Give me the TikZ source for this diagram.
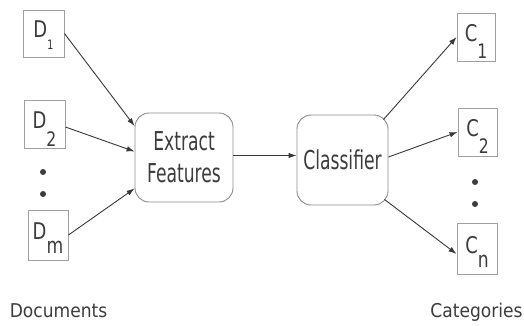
\documentclass[tikz,border=0pt]{standalone}
\usepackage{fontspec}
\usetikzlibrary{arrows.meta}
\setmainfont{DejaVu Sans}
\newfontfamily\boxfont[FakeStretch=0.66]{DejaVu Sans}
\newfontfamily\labfont[FakeStretch=0.9]{DejaVu Sans}
\newfontfamily\symfont[FakeStretch=0.78]{DejaVu Sans}
\definecolor{inkgray}{HTML}{3C3C3C}
\definecolor{edgegray}{HTML}{A0A0A0}
\definecolor{roundgray}{HTML}{8A8A8A}
\definecolor{wiregray}{HTML}{383838}
% letter with a lowered index: letter, index size, drop, index
\newcommand\itemtext[4]{\raisebox{-4pt}[0pt][0pt]{#1\raisebox{-#3}{\fontsize{#2}{#2}\selectfont #4}}}
\begin{document}
\begin{tikzpicture}[x=1pt,y=-1pt,
  itembox/.style={draw=edgegray, line width=0.9pt, inner sep=0pt,
    minimum width=41pt, minimum height=48pt, text=inkgray,
    font=\symfont\fontsize{23}{24}\selectfont},
  stagebox/.style={draw=roundgray, line width=0.9pt, rounded corners=14pt,
    inner sep=0pt, align=center, text=inkgray,
    font=\boxfont\fontsize{26}{32}\selectfont},
  grouplabel/.style={inner sep=0pt, anchor=base, text=inkgray,
    font=\labfont\fontsize{19}{22}\selectfont},
  wire/.style={draw=wiregray, line width=0.9pt,
    -{Latex[length=8pt,width=5.5pt]}},
  ellipsisdot/.style={circle, fill=inkgray, inner sep=0pt, minimum size=6pt}]
\useasboundingbox (0,0) rectangle (524,325);

% document inputs
\node[itembox, minimum width=41pt, minimum height=47pt] (d1) at (43.5,33.5) {\itemtext{D}{13pt}{12pt}{1}};
\node[itembox, minimum width=41pt, minimum height=48pt] (d2) at (44.5,124) {\itemtext{D}{20pt}{18pt}{2}};
\node[ellipsisdot] (ddot1) at (43,172) {};
\node[ellipsisdot] (ddot2) at (43,194) {};
\node[itembox, minimum width=40pt, minimum height=50pt] (dm) at (48,235) {\itemtext{D}{22pt}{14pt}{m}};

% processing stages
\node[stagebox, minimum width=98pt, minimum height=89pt] (ext) at (184,157.5) {Extract\\Features};
\node[stagebox, minimum width=91pt, minimum height=90pt] (cls) at (342.5,160) {Classifier};

% category outputs
\node[itembox, minimum width=38pt, minimum height=48pt] (c1) at (476,37) {\itemtext{C}{20pt}{17pt}{1}};
\node[itembox, minimum width=39pt, minimum height=48pt] (c2) at (477.5,132) {\itemtext{C}{20pt}{17pt}{2}};
\node[ellipsisdot] (cdot1) at (475,182) {};
\node[ellipsisdot] (cdot2) at (475,204) {};
\node[itembox, minimum width=40pt, minimum height=51pt] (cn) at (477,249) {\itemtext{C}{22pt}{14pt}{n}};

% group captions
\node[grouplabel] (docs) at (58.5,317) {Documents};
\node[grouplabel] (cats) at (476.5,317) {Categories};

% connectors
\draw[wire] (d1.east) -- ([yshift=31.5pt]ext.west);
\draw[wire] ([yshift=-3pt]d2.east) -- ([yshift=6pt]ext.west);
\draw[wire] (dm.east) -- ([yshift=-31pt]ext.west);
\draw[wire] ([yshift=2pt]ext.east) -- ([yshift=4.5pt]cls.west);
\draw[wire] ([xshift=-5pt,yshift=-5pt]cls.north east) -- (c1.west);
\draw[wire] ([yshift=3pt]cls.east) -- (c2.west);
\draw[wire] ([xshift=-4pt,yshift=6pt]cls.south east) -- ([yshift=-5pt]cn.west);
\end{tikzpicture}
\end{document}
